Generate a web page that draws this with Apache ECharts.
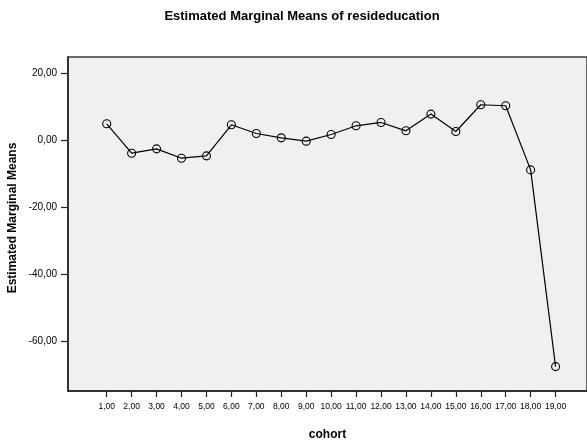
<!DOCTYPE html>
<html>
<head>
<meta charset="utf-8">
<script src="https://cdn.jsdelivr.net/npm/echarts@6/dist/echarts.min.js"></script>
<style>
  html, body { margin: 0; padding: 0; background: #ffffff; }
  #chart { width: 587px; height: 446px; }
</style>
</head>
<body>
<div id="chart"></div>
<script>
// Cohort codes on the horizontal axis
const cohorts = [1, 2, 3, 4, 5, 6, 7, 8, 9, 10, 11, 12, 13, 14, 15, 16, 17, 18, 19];
// Estimated marginal means of resideducation per cohort
const means = [5.0, -3.8, -2.5, -5.3, -4.6, 4.7, 2.1, 0.8, -0.2, 1.8, 4.4, 5.4, 2.9, 7.9, 2.7, 10.7, 10.4, -8.8, -67.7];
// Labelled ticks on the vertical axis
const yTicks = [-60, -40, -20, 0, 20];

const fmt = v => v.toFixed(2).replace('.', ',');
const FONT = 'Liberation Sans, Arial, Helvetica, sans-serif';

const chart = echarts.init(document.getElementById('chart'), null, { renderer: 'canvas' });

chart.setOption({
  animation: false,
  backgroundColor: '#ffffff',
  title: {
    text: 'Estimated Marginal Means of resideducation',
    left: 297,
    top: 5,
    textAlign: 'center',
    textStyle: { fontFamily: FONT, fontSize: 13, fontWeight: 'bold', color: '#000' }
  },
  grid: {
    left: 68, right: 0, top: 57, bottom: 47,
    show: true,
    backgroundColor: '#f0f0f0',
    borderColor: '#3a3a3a',
    borderWidth: 1.5,
    containLabel: false
  },
  xAxis: {
    type: 'value',
    min: -0.552,
    max: 20.26,
    splitLine: { show: false },
    axisLine: { show: true, onZero: false, lineStyle: { color: '#222', width: 1.5 } },
    axisTick: { show: true, length: 6, customValues: cohorts, lineStyle: { color: '#222', width: 1.2 } },
    axisLabel: {
      customValues: cohorts,
      formatter: v => fmt(v),
      fontFamily: FONT, fontSize: 8.5, color: '#000', margin: 11
    },
    name: 'cohort',
    nameLocation: 'middle',
    nameGap: 38,
    nameTextStyle: { fontFamily: FONT, fontSize: 12, fontWeight: 'bold', color: '#000' }
  },
  yAxis: {
    type: 'value',
    min: -75,
    max: 25,
    splitLine: { show: false },
    axisLine: { show: true, onZero: false, lineStyle: { color: '#222', width: 1.5 } },
    axisTick: { show: true, length: 7, customValues: yTicks, lineStyle: { color: '#222', width: 1.2 } },
    axisLabel: {
      customValues: yTicks,
      formatter: v => fmt(v),
      fontFamily: FONT, fontSize: 10, color: '#000', margin: 11
    }
  },
  graphic: [{
    type: 'text',
    x: 13,
    y: 218,
    rotation: Math.PI / 2,
    style: {
      text: 'Estimated Marginal Means',
      font: 'bold 12px ' + FONT,
      fill: '#000',
      textAlign: 'center',
      textVerticalAlign: 'middle'
    }
  }],
  series: [{
    type: 'line',
    data: cohorts.map((c, i) => [c, means[i]]),
    symbol: 'circle',
    symbolSize: 8,
    lineStyle: { color: '#000', width: 1.2 },
    itemStyle: { color: 'rgba(0,0,0,0)', borderColor: '#000', borderWidth: 1.1 },
    clip: false
  }]
});
</script>
</body>
</html>
